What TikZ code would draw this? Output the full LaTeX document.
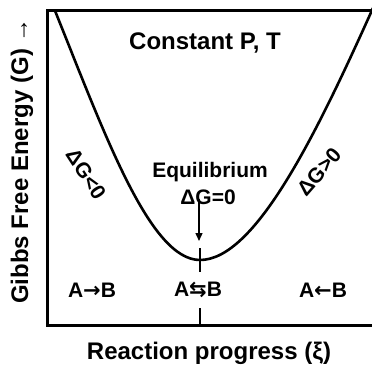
\documentclass[tikz,border=0pt]{standalone}
\usepackage{fontspec}
\setmainfont{Liberation Sans}
\newfontfamily\arrowfont{DejaVu Sans}
\usetikzlibrary{positioning,arrows.meta}
\tikzset{
  frameline/.style={line width=3pt},
  curveline/.style={line width=2.6pt},
  tickline/.style={line width=2.4pt},
  pointer/.style={-{Triangle[length=8pt,width=7pt]}, line width=1.4pt},
  bigtext/.style={font=\fontsize{24}{28}\selectfont\bfseries, inner sep=0pt},
  midtext/.style={font=\fontsize{21}{25}\selectfont\bfseries, inner sep=0pt, align=center}
}

\begin{document}
\begin{tikzpicture}[x=1pt, y=-1pt]
  \useasboundingbox (0,0) rectangle (372,367);
  % frame (axes)
  \coordinate (tr) at (375,10.7);
  \coordinate (tl) at (47.7,10.7);
  \coordinate (bl) at (47.7,325);
  \coordinate (br) at (375,325);
  \draw[frameline] (tr) -- (tl) -- (bl) -- (br);
  % free energy curve
  \coordinate (ltop) at (55,10.7);
  \coordinate (gmin) at (200,260);
  \coordinate (rtop) at (373,8);
  \draw[curveline] (ltop) .. controls (105,135) and (150,260) .. (gmin)
                   .. controls (255,260) and (316,135) .. (rtop);
  % ticks at equilibrium
  \coordinate (tick1a) at (200,248);
  \coordinate (tick1b) at (200,272);
  \coordinate (tick2a) at (200,308);
  \coordinate (tick2b) at (200,325);
  \draw[tickline] (tick1a) -- (tick1b);
  \draw[tickline] (tick2a) -- (tick2b);
  % labels
  \node[bigtext] (cond) at (205,43) {Constant P, T};
  \node[bigtext, rotate=90] (ylab) at (22,161) {Gibbs Free Energy (G) →};
  \node[bigtext] (xlab) at (209,353) {Reaction progress (ξ)};
  \node[midtext] (eqlabel) at (210,172) {Equilibrium};
  \node[midtext] (dgzero) at (208,197) {ΔG=0};
  \node[midtext, rotate=-57] (dgneg) at (86,174) {ΔG<0};
  \node[midtext, rotate=49] (dgpos) at (319,172) {ΔG>0};
  \node[midtext] (fwd) at (92,290) {A{\arrowfont →}B};
  \node[midtext] (both) at (198,290) {A{\arrowfont ⇆}B};
  \node[midtext] (bwd) at (323,290) {A{\arrowfont ←}B};
  % arrow to the minimum
  \coordinate (arrtop) at (199,199);
  \coordinate (arrtip) at (199,241);
  \draw[pointer] (arrtop) -- (arrtip);
\end{tikzpicture}
\end{document}
